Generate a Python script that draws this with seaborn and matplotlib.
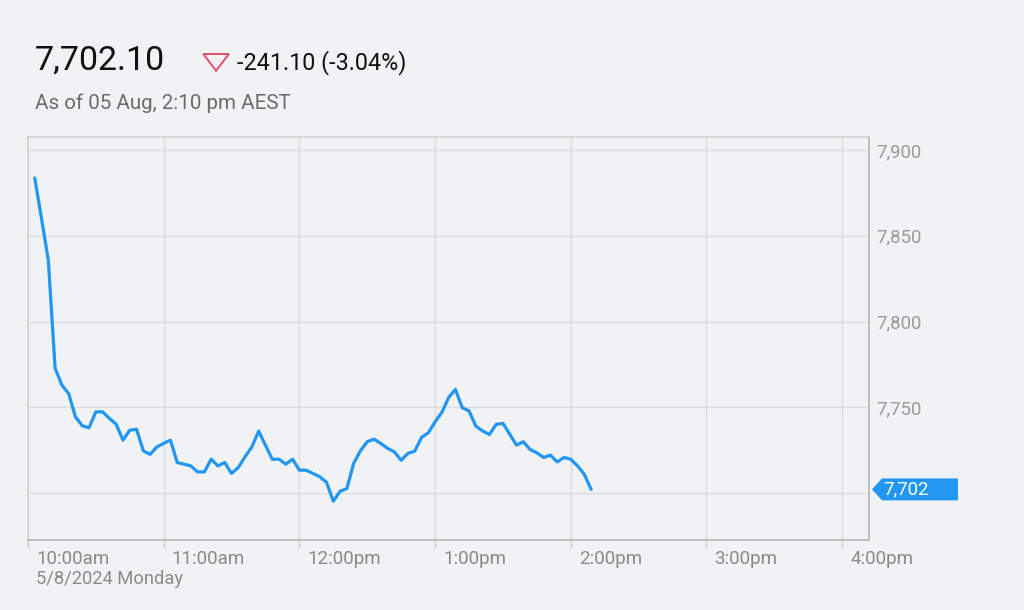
import pandas as pd
import matplotlib.pyplot as plt
import matplotlib.transforms as mtransforms
from matplotlib.patches import Polygon
import seaborn as sns

# Data (3-minute steps from 10:03)
start_time = "2024-08-05 10:03"
prices = [7883.7, 7860.0, 7835.8, 7772.8, 7762.9, 7758.0, 7744.4, 7739.2, 7738.0, 7747.3,
          7747.3, 7743.5, 7740.1, 7730.8, 7736.6, 7737.2, 7724.6, 7722.5, 7726.9, 7728.9,
          7730.8, 7717.8, 7716.8, 7715.8, 7712.3, 7712.3, 7719.7, 7715.8, 7717.8, 7711.4,
          7714.9, 7721.1, 7726.9, 7736.1, 7727.9, 7719.7, 7719.7, 7716.8, 7719.7, 7713.3,
          7713.3, 7711.4, 7709.5, 7706.2, 7695.2, 7701.0, 7702.6, 7717.3, 7724.6, 7729.9,
          7731.4, 7728.9, 7726.0, 7724.0, 7719.1, 7723.1, 7724.4, 7732.4, 7735.1, 7741.5,
          7747.0, 7755.7, 7760.4, 7749.7, 7747.9, 7739.0, 7736.2, 7734.1, 7740.0, 7740.6,
          7734.3, 7727.9, 7729.9, 7725.4, 7723.4, 7720.7, 7722.1, 7718.1, 7720.7, 7719.7,
          7715.8, 7710.8, 7702.1]
tick_times = ["10:00", "11:00", "12:00", "13:00", "14:00", "15:00", "16:00"]
tick_labels = ["10:00am", "11:00am", "12:00pm", "1:00pm", "2:00pm", "3:00pm", "4:00pm"]
y_ticks = [7700, 7750, 7800, 7850, 7900]
# 7,700 label is hidden behind the last-value tag
y_labels = ["", "7,750", "7,800", "7,850", "7,900"]

df = pd.DataFrame({
    "Time": pd.date_range(start_time, periods=len(prices), freq="3min"),
    "Price": prices,
})

bg = "#f1f2f4"
blue = "#2196f3"
sns.set_style("white", rc={"axes.facecolor": bg, "figure.facecolor": bg})
plt.rcParams["font.family"] = ["Roboto", "DejaVu Sans"]

fig = plt.figure(figsize=(10.24, 6.10), dpi=100)
ax = fig.add_axes([0.0273, 0.1148, 0.8213, 0.6606])

sns.lineplot(data=df, x="Time", y="Price", color=blue, lw=2.3, ax=ax)

day = "2024-08-05 "
ax.set_xlim(pd.Timestamp(day + "10:00"), pd.Timestamp(day + "16:11:50"))
ax.set_ylim(7672.6, 7907.6)
ax.set_xlabel("")
ax.set_ylabel("")

ax.set_xticks([pd.Timestamp(day + t) for t in tick_times])
ax.set_xticklabels(tick_labels)
ax.yaxis.tick_right()
ax.set_yticks(y_ticks)
ax.set_yticklabels(y_labels)

ax.grid(True, color="#dcdcdc", lw=1)
ax.tick_params(axis="x", length=6, width=1, color="#cfcfcf", colors="#8a8a8a",
               labelsize=13.5, pad=1.5, direction="out", bottom=True)
ax.tick_params(axis="y", length=0, colors="#9a9a9a", labelsize=13.4, pad=5)

offset = mtransforms.ScaledTranslation(0.08, 0, fig.dpi_scale_trans)
for lbl in ax.get_xticklabels():
    lbl.set_horizontalalignment("left")
    lbl.set_transform(lbl.get_transform() + offset)

for side in ["left", "top"]:
    ax.spines[side].set_color("#d2d2d2")
for side in ["right", "bottom"]:
    ax.spines[side].set_color("#b4b4b4")
for s in ax.spines.values():
    s.set_linewidth(1.2)

# last value tag on the right axis
last = prices[-1]
tr = ax.get_yaxis_transform()
tag = Polygon([(1.0036, last), (1.0155, last + 6.4), (1.1058, last + 6.4),
               (1.1058, last - 6.4), (1.0155, last - 6.4)],
              closed=True, transform=tr, clip_on=False, fc=blue, ec="none")
ax.add_patch(tag)
ax.text(1.017, last, f"{last:,.0f}", transform=tr, color="white", fontsize=13.4,
        va="center", ha="left")

# header
fig.text(0.034, 0.900, "7,702.10", fontsize=24.5, color="#111111", va="center")
tri = Polygon([(0.1985, 0.9115), (0.2235, 0.9115), (0.2110, 0.8840)], closed=True,
              transform=fig.transFigure, fill=False, ec="#e0506e", lw=1.4)
fig.add_artist(tri)
fig.text(0.231, 0.898, "-241.10 (-3.04%)", fontsize=16.8, color="#111111", va="center")
fig.text(0.034, 0.830, "As of 05 Aug, 2:10 pm AEST", fontsize=14.8, color="#6b6b6b",
         va="center")
fig.text(0.035, 0.050, "5/8/2024 Monday", fontsize=13.2, color="#8a8a8a", va="center")

plt.savefig("out.png", dpi=100, facecolor=bg)
